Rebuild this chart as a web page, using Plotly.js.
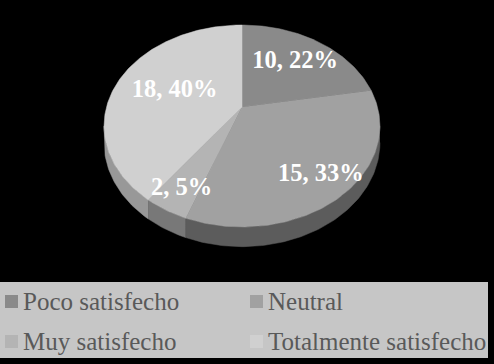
<!DOCTYPE html>
<html>
<head>
<meta charset="utf-8">
<script src="https://cdn.plot.ly/plotly-3.0.1.min.js"></script>
<style>
  html, body { margin: 0; padding: 0; background: #000; }
  #chart { width: 494px; height: 364px; }
</style>
</head>
<body>
<div id="chart"></div>
<script>
// ---- data ----
const categories = ['Poco satisfecho', 'Neutral', 'Muy satisfecho', 'Totalmente satisfecho'];
const counts = [10, 15, 2, 18];
const percents = [22, 33, 5, 40];
const topColors = ['#8a8a8a', '#a1a1a1', '#b4b4b4', '#d0d0d0'];
const sideColors = ['#5a5a5a', '#5c5c5c', '#787878', '#989898'];

// ---- geometry (style) ----
const W = 494, H = 364;
const CXpx = 242, CYpx = 107;      // pie centre in page pixels
const RX = 135.5, RY = 97.4, K = 0.188, DEPTH = 16;
const labelRadius = [0.67, 0.80, 0.82, 0.54];

const rad = d => d * Math.PI / 180;
// angle a: degrees clockwise from top; r: fraction of radius
function proj(a, r) {
  const u = r * Math.sin(rad(a)), w = r * Math.cos(rad(a));
  const den = 1 + K * w;
  return { x: RX * u / den, y: RY * w / den, den: den };
}

const total = counts.reduce((s, v) => s + v, 0);
const starts = [], ends = [];
let acc = 0;
counts.forEach(v => { starts.push(acc / total * 360); acc += v; ends.push(acc / total * 360); });

function arcAngles(a0, a1) {
  const out = [];
  const n = Math.max(2, Math.ceil((a1 - a0) / 1));
  for (let i = 0; i <= n; i++) out.push(a0 + (a1 - a0) * i / n);
  return out;
}

const traces = [];
// side (front visible part of the rim)
const sideStart = 90 + Math.asin(K) * 180 / Math.PI;   // right silhouette ~100.8
const sideEnd = 360 - sideStart;                        // left silhouette ~259.2
categories.forEach((c, i) => {
  const a0 = Math.max(starts[i], sideStart), a1 = Math.min(ends[i], sideEnd);
  if (a1 <= a0) return;
  const angs = arcAngles(a0, a1);
  const xs = [], ys = [];
  angs.forEach(a => { const p = proj(a, 1); xs.push(p.x); ys.push(p.y); });
  angs.slice().reverse().forEach(a => { const p = proj(a, 1); xs.push(p.x); ys.push(p.y - DEPTH / p.den); });
  traces.push({ type: 'scatter', mode: 'lines', x: xs, y: ys, fill: 'toself',
    fillcolor: sideColors[i], line: { width: 0.5, color: sideColors[i] },
    hoverinfo: 'skip', showlegend: false });
});
// top faces
categories.forEach((c, i) => {
  const xs = [0], ys = [0];
  arcAngles(starts[i], ends[i]).forEach(a => { const p = proj(a, 1); xs.push(p.x); ys.push(p.y); });
  xs.push(0); ys.push(0);
  traces.push({ type: 'scatter', mode: 'lines', x: xs, y: ys, fill: 'toself',
    fillcolor: topColors[i], line: { width: 0.5, color: topColors[i] },
    name: c, hoverinfo: 'name', showlegend: false });
});
// data labels
const lx = [], ly = [], lt = [];
categories.forEach((c, i) => {
  const p = proj((starts[i] + ends[i]) / 2, labelRadius[i]);
  lx.push(p.x); ly.push(p.y); lt.push(counts[i] + ', ' + percents[i] + '%');
});
traces.push({ type: 'scatter', mode: 'text', x: lx, y: ly, text: lt,
  textposition: 'middle center',
  textfont: { family: 'Liberation Serif, Times New Roman, serif', size: 24.5, color: '#ffffff', weight: 'bold' },
  hoverinfo: 'skip', showlegend: false });

// ---- legend drawn as shapes + annotations ----
const px2x = px => px / W, px2y = py => 1 - py / H;
const shapes = [{ type: 'rect', xref: 'paper', yref: 'paper',
  x0: px2x(0), x1: px2x(488), y0: px2y(358), y1: px2y(282),
  fillcolor: '#c6c6c6', line: { width: 0 }, layer: 'above' }];
const annotations = [];
categories.forEach((c, i) => {
  const col = i % 2, row = Math.floor(i / 2);
  const sx = 5 + col * 245, cy = 301 + row * 40;
  shapes.push({ type: 'rect', xref: 'paper', yref: 'paper',
    x0: px2x(sx), x1: px2x(sx + 13), y0: px2y(cy + 7), y1: px2y(cy - 6),
    fillcolor: topColors[i], line: { width: 0 }, layer: 'above' });
  annotations.push({ xref: 'paper', yref: 'paper', x: px2x(sx + 16), y: px2y(cy),
    xanchor: 'left', yanchor: 'middle', showarrow: false, text: c,
    font: { family: 'Liberation Serif, Times New Roman, serif', size: 25, color: '#595959' } });
});

const layout = {
  width: W, height: H,
  margin: { l: 0, r: 0, t: 0, b: 0 },
  paper_bgcolor: '#000000', plot_bgcolor: '#000000',
  xaxis: { range: [-CXpx, W - CXpx], visible: false, fixedrange: true },
  yaxis: { range: [CYpx - H, CYpx], visible: false, fixedrange: true },
  showlegend: false,
  shapes: shapes, annotations: annotations
};
Plotly.newPlot('chart', traces, layout, { displayModeBar: false, staticPlot: true });
</script>
</body>
</html>
